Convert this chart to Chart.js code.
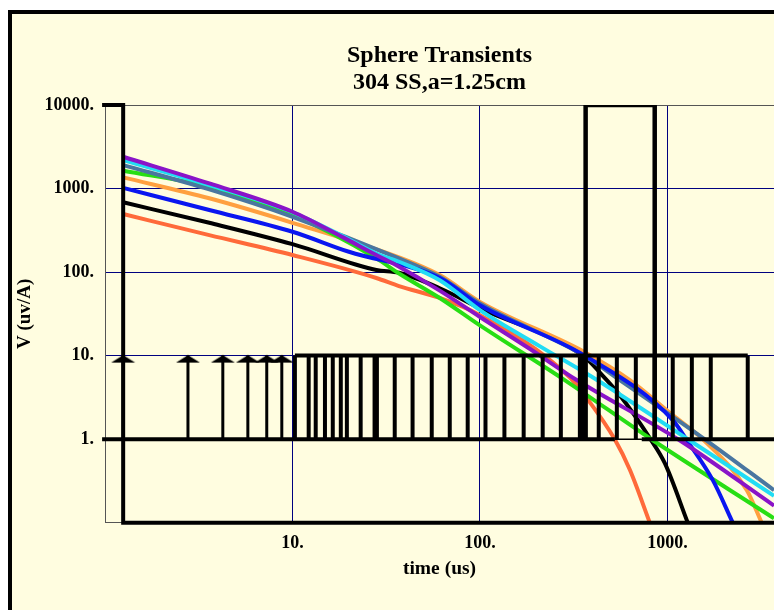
<!DOCTYPE html>
<html>
<head>
<meta charset="utf-8">
<script src="https://cdn.jsdelivr.net/npm/chart.js@4.4.0/dist/chart.umd.min.js"></script>
<style>
  html, body { margin: 0; padding: 0; background: #fff; overflow: hidden; }
  #frame { position: absolute; left: 8px; top: 10px; width: 820px; height: 660px; border: 4px solid #000; background: #fffde0; }
  #wrap { position: absolute; left: 0; top: 0; width: 774px; height: 610px; }
</style>
</head>
<body>
<div id="frame"></div>
<div id="wrap"><canvas id="chart" width="774" height="610"></canvas></div>
<script>
// axis ticks
const timeTicks = [10, 100, 1000];
const timeTickLabels = ['10.', '100.', '1000.'];
const voltTicks = [1, 10, 100, 1000, 10000];
const voltTickLabels = ['1.', '10.', '100.', '1000.', '10000.'];

// decay curves, [time (us), V (uv/A)]
const purple = [[1.25, 2400], [3.6, 1150], [10, 527], [18.5, 262], [28, 160], [37, 116], [61, 60], [100, 29], [185, 12], [328, 5.1], [1160, 0.97], [3700, 0.16]];
const cyan = [[1.25, 2190], [3.6, 1100], [10, 520], [18.5, 270], [28, 167], [37, 133], [61, 80], [100, 35], [208, 13], [421, 5.1], [1310, 0.97], [3700, 0.21]];
const steel = [[1.25, 1910], [3.6, 977], [10, 459], [37, 146], [61, 88], [100, 42], [362, 9.9], [557, 5.1], [1610, 0.97], [3700, 0.245]];
const green = [[1.25, 1630], [3.6, 1050], [10, 482], [28, 146], [37, 96], [61, 49], [100, 23], [283, 5.1], [835, 0.97], [3700, 0.113]];
const orange = [[1.25, 1360], [3.6, 764], [10, 389], [37, 150], [61, 92], [100, 44], [362, 11], [630, 5.1], [1067, 1.94], [1540, 1.0], [2650, 0.245], [3180, 0.1]];
const blue = [[1.25, 1020], [3.6, 553], [10, 304], [20, 175], [61, 85], [100, 40], [362, 10], [1067, 1.69], [1270, 0.97], [1745, 0.323], [2230, 0.1]];
const black = [[1.25, 684], [3.6, 389], [10, 216], [28, 106], [37, 98], [61, 64], [100, 37], [362, 9.6], [435, 6.3], [557, 3.36], [805, 1.03], [968, 0.516], [1283, 0.1]];
const red = [[1.25, 495], [3.6, 277], [10, 160], [28, 85], [37, 68], [61, 49], [100, 30.5], [301, 5.5], [371, 3.1], [524, 0.99], [630, 0.43], [805, 0.1]];

// time gates, early arrows and the on-time window
const gateTimes = [10.3, 12.2, 13.3, 14.9, 16.4, 18.1, 19.5, 23.1, 27.4, 28.2, 35.1, 43.7, 55.3, 69, 86, 107, 135, 171, 216, 270, 341, 358, 430, 537, 678, 855, 1067, 1349, 1702, 2680];
const arrowTimes = [1.25, 2.77, 4.25, 5.78, 7.29, 8.77];
const pulseWindow = [366, 855];
const baseGap = [524, 729];
const gateLow = 1, gateHigh = 10;
const tMin = 1, tMax = 3700, vMin = 0.1, vMax = 10000;

const serif = 'Liberation Serif';
const pts = arr => arr.map(([x, y]) => ({ x, y }));

function curve(data, color) {
  return { data: pts(data), borderColor: color, borderWidth: 4, pointRadius: 0, fill: false,
    cubicInterpolationMode: 'monotone', order: 2 };
}
function ink(data, width, extra) {
  return Object.assign({ data, borderColor: '#000', backgroundColor: '#000', borderWidth: width,
    pointRadius: 0, tension: 0, fill: false, order: 0 }, extra || {});
}
function verticals(times, lo, hi) {
  const out = [];
  times.forEach(t => out.push({ x: t, y: lo }, { x: t, y: hi }, { x: t, y: null }));
  return out;
}

// flat arrowhead used as point style
const head = document.createElement('canvas');
head.width = 26; head.height = 16;
const hc = head.getContext('2d');
hc.fillStyle = '#000';
hc.beginPath(); hc.moveTo(13, 7.5); hc.lineTo(25, 15); hc.lineTo(1, 15); hc.closePath(); hc.fill();

const datasets = [
  // frame: left bar, bottom bar, top tick
  ink([{ x: tMax, y: vMin }, { x: 1.25, y: vMin }, { x: 1.25, y: vMax }, { x: 0.965, y: vMax }], 4, { clip: false }),
  // unit line
  ink([{ x: 0.965, y: gateLow }, { x: baseGap[0], y: gateLow }], 4, { clip: false }),
  ink([{ x: baseGap[0], y: gateLow }, { x: baseGap[1], y: gateLow }], 1.5),
  ink([{ x: baseGap[1], y: gateLow }, { x: tMax, y: gateLow }], 4),
  // gate tops and sides
  ink([{ x: gateTimes[0], y: gateHigh }, { x: gateTimes[gateTimes.length - 1], y: gateHigh }], 4),
  ink(verticals(gateTimes, gateLow, gateHigh), 4, { spanGaps: false }),
  ink(verticals(arrowTimes, gateLow, gateHigh), 3, { spanGaps: false }),
  ink(arrowTimes.map(t => ({ x: t, y: gateHigh })), 0, { showLine: false, pointRadius: 5, pointStyle: head }),
  // on-time window
  ink([{ x: pulseWindow[0], y: gateLow }, { x: pulseWindow[0], y: vMax }, { x: pulseWindow[1], y: vMax }, { x: pulseWindow[1], y: gateLow }], 4.5),
  // decays
  curve(purple, '#8a14c8'),
  curve(cyan, '#22dcf4'),
  curve(blue, '#0a16f0'),
  curve(steel, '#4a76a0'),
  curve(green, '#28de14'),
  curve(orange, '#ffa040'),
  curve(black, '#000000'),
  curve(red, '#ff6a3a')
];

new Chart(document.getElementById('chart'), {
  type: 'line',
  data: { datasets },
  options: {
    responsive: false,
    animation: false,
    events: [],
    layout: { padding: 0, autoPadding: false },
    plugins: {
      legend: { display: false },
      tooltip: { enabled: false },
      title: {
        display: true,
        fullSize: false,
        text: ['Sphere Transients', '304 SS,a=1.25cm'],
        color: '#000',
        font: { family: serif, size: 24, weight: 'bold', lineHeight: '27px' },
        padding: { top: 42.5, bottom: 8.5 }
      }
    },
    scales: {
      x: {
        type: 'logarithmic',
        bounds: 'data',
        min: tMin, max: tMax,
        afterBuildTicks: s => { s.ticks = timeTicks.map(v => ({ value: v })); },
        afterFit: s => { s.height = 87.3; },
        ticks: {
          autoSkip: false, maxRotation: 0, padding: 10, color: '#000',
          font: { family: serif, size: 18, weight: 'bold' },
          callback: v => timeTickLabels[timeTicks.indexOf(v)]
        },
        grid: { color: '#000080', lineWidth: 1, drawTicks: false },
        border: { color: '#555', width: 1 },
        title: {
          display: true, text: 'time (us)', color: '#000',
          font: { family: serif, size: 19.5, weight: 'bold' },
          padding: { top: 0, bottom: 29 }
        }
      },
      y: {
        type: 'logarithmic',
        bounds: 'data',
        min: vMin, max: vMax,
        afterBuildTicks: s => { s.ticks = voltTicks.map(v => ({ value: v })); },
        afterFit: s => { s.width = 105; },
        ticks: {
          autoSkip: false, padding: 11, color: '#000',
          font: { family: serif, size: 18, weight: 'bold' },
          callback: v => voltTickLabels[voltTicks.indexOf(v)]
        },
        grid: {
          color: c => (c.tick && c.tick.value === vMax ? '#555' : '#000080'),
          lineWidth: 1, drawTicks: false
        },
        border: { color: '#555', width: 1 },
        title: {
          display: true, text: 'V (uv/A)', color: '#000',
          font: { family: serif, size: 19, weight: 'bold' },
          padding: { top: 14, bottom: 0 }
        }
      }
    }
  }
});
</script>
</body>
</html>
